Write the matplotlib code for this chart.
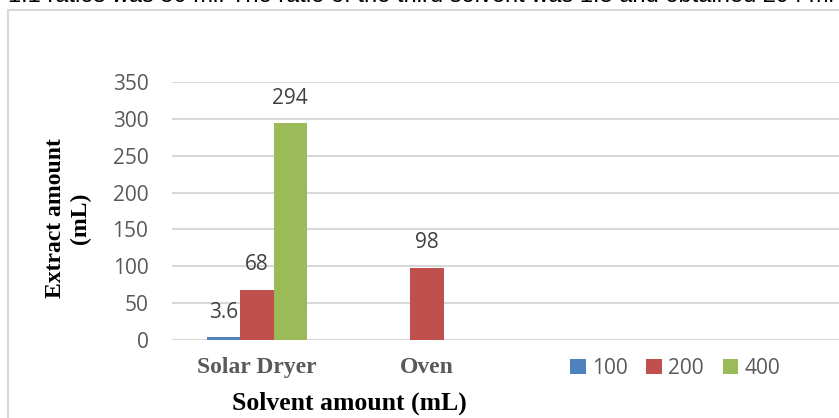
import matplotlib.pyplot as plt
import numpy as np
from matplotlib.patches import Rectangle

# data
categories = ["Solar Dryer", "Oven", "", ""]
series = ["100", "200", "400"]
values_100 = [3.6, 0, 0, 0]
values_200 = [68, 98, 0, 0]
values_400 = [294, 0, 0, 0]
colors = ["#4F81BD", "#C0504D", "#9BBB59"]
yticks = [0, 50, 100, 150, 200, 250, 300, 350]
top_text = "1:1 ratios was 50 ml. The ratio of the third solvent was 1:3 and obtained 294 ml"

W, H = 839, 418
fig = plt.figure(figsize=(W / 100, H / 100), dpi=100)

serif = "Liberation Serif"
sans = "Open Sans"

# cropped line of body text at the top
fig.text(8 / W, 1 - 2 / H, top_text, fontsize=17, family="Liberation Sans",
         color="black", va="baseline", ha="left")

# outer chart border (cropped on right and bottom)
fig.patches.append(Rectangle((8 / W, -0.05), 1.2, 1 - 10 / H + 0.05,
                             transform=fig.transFigure, fill=False,
                             edgecolor="#D9D9D9", linewidth=1.5))

ax = fig.add_axes([172 / W, 1 - 340 / H, 680 / W, 258 / H])
x = np.arange(len(categories))
bw = 0.195
groups = [values_100, values_200, values_400]
for i, (vals, c, name) in enumerate(zip(groups, colors, series)):
    offs = (i - 1) * bw
    # single red bar in Oven sits at the category centre
    xs = []
    for j, v in enumerate(vals):
        if j == 1:
            xs.append(x[j])
        else:
            xs.append(x[j] + offs)
    show = [v > 0 for v in vals]
    ax.bar(np.array(xs)[show], np.array(vals)[show], width=bw, color=c,
           label=name, zorder=3)
    for xx, v, s in zip(xs, vals, show):
        if s:
            ax.text(xx, v + 34, f"{v:g}", ha="center", va="center",
                    fontsize=15, family=sans, color="#404040")

ax.set_xlim(-0.5, len(categories) - 0.5)
ax.set_ylim(0, 350)
ax.set_yticks(yticks)
ax.yaxis.grid(True, color="#D9D9D9", linewidth=1.5, zorder=0)
ax.set_axisbelow(True)
for s in ax.spines.values():
    s.set_visible(False)
ax.tick_params(axis="both", length=0)
ax.tick_params(axis="y", pad=17, labelsize=15, labelcolor="#595959")
ax.set_yticklabels([str(t) for t in yticks], family=sans)
ax.set_xticks(x)
ax.set_xticklabels(categories, family=serif, fontsize=17, fontweight="bold",
                   color="#595959")
ax.tick_params(axis="x", pad=12)

fig.text(349 / W, 1 - 403 / H, "Solvent amount (mL)", family=serif, fontsize=18.5,
         fontweight="bold", ha="center", va="center")
fig.text(68 / W, 1 - 218 / H, "Extract amount\n(mL)", family=serif, fontsize=17,
         fontweight="bold", ha="center", va="center", rotation=90,
         linespacing=1.2)

leg = ax.legend(loc="center", bbox_to_anchor=(675 / W, 1 - 368 / H),
                bbox_transform=fig.transFigure, ncol=3, frameon=False,
                prop={"family": sans, "size": 15}, handlelength=0.75,
                handleheight=0.75, handletextpad=0.3, columnspacing=0.9)
for t in leg.get_texts():
    t.set_color("#595959")

fig.savefig("out.png", dpi=100)
